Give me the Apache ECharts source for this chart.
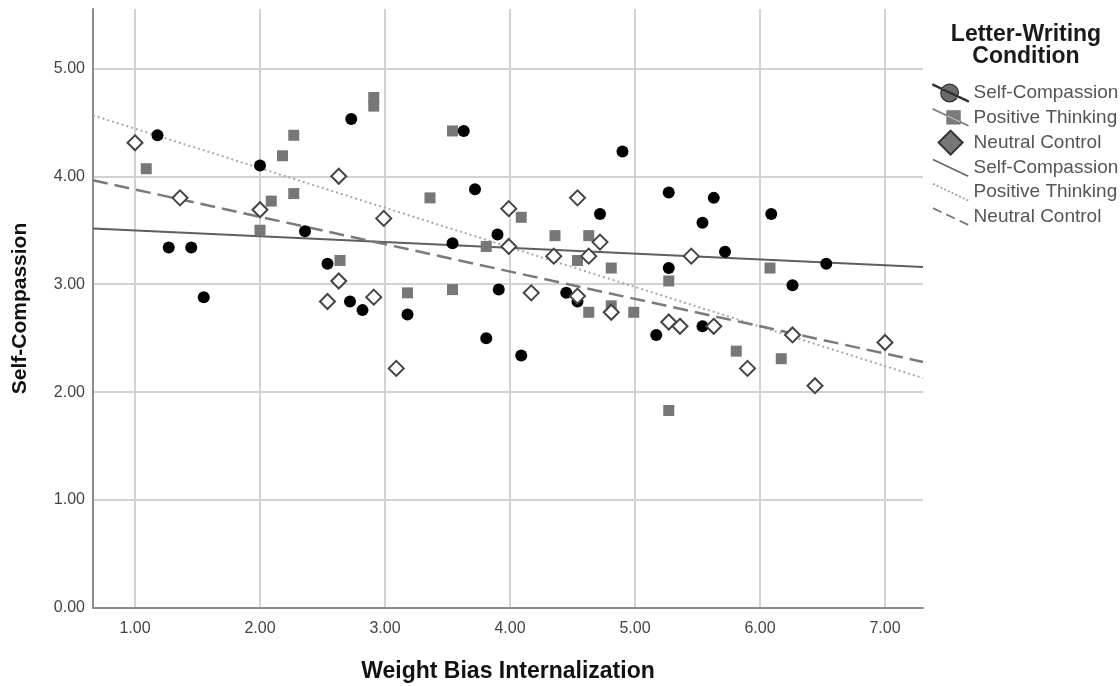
<!DOCTYPE html>
<html>
<head>
<meta charset="utf-8">
<script src="https://cdn.jsdelivr.net/npm/echarts@6/dist/echarts.min.js"></script>
<style>
  html, body { margin: 0; background: #fff; }
  #chart { width: 1120px; height: 686px; }
</style>
</head>
<body>
<div id="chart"></div>
<script>
// Self-Compassion letters (black circles)
const scX = [1.18, 1.27, 1.45, 1.55, 2.00, 2.36, 2.54, 2.72, 2.73, 2.82, 3.18, 3.54, 3.63, 3.72, 3.81, 3.90,
             3.91, 4.09, 4.45, 4.54, 4.72, 4.90, 5.17, 5.27, 5.27, 5.54, 5.54, 5.63, 5.72, 6.09, 6.26, 6.53];
const scY = [4.38, 3.34, 3.34, 2.88, 4.10, 3.49, 3.19, 2.84, 4.53, 2.76, 2.72, 3.38, 4.42, 3.88, 2.50, 3.46,
             2.95, 2.34, 2.92, 2.84, 3.65, 4.23, 2.53, 3.85, 3.15, 3.57, 2.61, 3.80, 3.30, 3.65, 2.99, 3.19];

// Positive Thinking letters (grey squares)
const ptX = [1.09, 2.00, 2.09, 2.18, 2.27, 2.27, 2.64, 2.91, 2.91, 3.18, 3.36, 3.54, 3.54, 3.81,
             4.09, 4.36, 4.54, 4.63, 4.63, 4.81, 4.81, 4.99, 5.27, 5.27, 5.81, 6.08, 6.17];
const ptY = [4.07, 3.50, 3.77, 4.19, 4.38, 3.84, 3.22, 4.73, 4.65, 2.92, 3.80, 4.42, 2.95, 3.35,
             3.62, 3.45, 3.22, 3.45, 2.74, 3.15, 2.80, 2.74, 3.03, 1.83, 2.38, 3.15, 2.31];

// Neutral Control letters (open diamonds)
const ncX = [1.00, 1.36, 2.00, 2.54, 2.63, 2.63, 2.91, 2.99, 3.09, 3.99, 3.99, 4.17, 4.35,
             4.54, 4.54, 4.63, 4.72, 4.81, 5.27, 5.36, 5.45, 5.63, 5.90, 6.26, 6.44, 7.00];
const ncY = [4.31, 3.80, 3.69, 2.84, 4.00, 3.03, 2.88, 3.61, 2.22, 3.70, 3.35, 2.92, 3.26,
             3.80, 2.89, 3.26, 3.39, 2.74, 2.65, 2.61, 3.26, 2.61, 2.22, 2.53, 2.06, 2.46];

// fit lines, values at the two ends of the x axis
const fitX = [0.664, 7.304];
const fitSC = [3.516, 3.16];
const fitPT = [4.565, 2.13];
const fitNC = [3.963, 2.28];

const xTicks = [1, 2, 3, 4, 5, 6, 7];
const yTicks = [0, 1, 2, 3, 4, 5];

const font = "'Liberation Sans', Arial, sans-serif";
const pairs = (xs, ys) => xs.map((x, i) => [x, ys[i]]);

// diagonal legend stroke, cut into dashes
function diagPath(dash, gap, th) {
  const x0 = 0, y0 = 3.5, x1 = 36, y1 = 20.5;
  const len = Math.hypot(x1 - x0, y1 - y0);
  const ux = (x1 - x0) / len, uy = (y1 - y0) / len;
  const nx = -uy * th / 2, ny = ux * th / 2;
  let d = '';
  let t = 0;
  while (t < len) {
    const t2 = Math.min(len, t + dash);
    const ax = x0 + ux * t, ay = y0 + uy * t, bx = x0 + ux * t2, by = y0 + uy * t2;
    d += 'M' + (ax + nx).toFixed(2) + ' ' + (ay + ny).toFixed(2) +
         'L' + (bx + nx).toFixed(2) + ' ' + (by + ny).toFixed(2) +
         'L' + (bx - nx).toFixed(2) + ' ' + (by - ny).toFixed(2) +
         'L' + (ax - nx).toFixed(2) + ' ' + (ay - ny).toFixed(2) + 'Z';
    t = t2 + gap;
  }
  return d;
}

const circleIcon = 'path://' + diagPath(40, 0, 1.2) + 'M26 12A9 9 0 1 1 8 12A9 9 0 1 1 26 12Z';
const squareIcon = 'path://' + diagPath(40, 0, 1.2) + 'M14 5L28 5L28 19L14 19Z';
const diamondIcon = 'path://M12 0L24 12L12 24L0 12Z';

const chart = echarts.init(document.getElementById('chart'));

chart.setOption({
  animation: false,
  title: {
    text: 'Letter-Writing\nCondition',
    left: 1021,
    top: 19,
    textAlign: 'center',
    textStyle: { fontFamily: font, fontSize: 23, fontWeight: 'bold', color: '#1a1a1a', lineHeight: 22 }
  },
  legend: {
    orient: 'vertical',
    left: 927,
    top: 76,
    itemWidth: 36,
    itemHeight: 24,
    itemGap: 0.3,
    selectedMode: false,
    textStyle: { fontFamily: font, fontSize: 19, color: '#555', lineHeight: 24 },
    data: [
      { name: 'Self-Compassion', icon: circleIcon, itemStyle: { color: '#6b6b6b', borderColor: '#333', borderWidth: 1.2 } },
      { name: 'Positive Thinking', icon: squareIcon, itemStyle: { color: '#7a7a7a', borderColor: '#666', borderWidth: 0.5 } },
      { name: 'Neutral Control', icon: diamondIcon, itemStyle: { color: '#777', borderColor: '#333', borderWidth: 2 } },
      { name: 'Self-Compassion ', icon: 'path://' + diagPath(40, 0, 1.6), itemStyle: { color: '#666', borderWidth: 0 } },
      { name: 'Positive Thinking ', icon: 'path://' + diagPath(2, 2, 1.6), itemStyle: { color: '#999', borderWidth: 0 } },
      { name: 'Neutral Control ', icon: 'path://' + diagPath(9, 5, 1.8), itemStyle: { color: '#777', borderWidth: 0 } }
    ]
  },
  grid: { left: 93, right: 197, top: 9, bottom: 78, outerBoundsMode: 'none' },
  xAxis: {
    type: 'value',
    min: fitX[0],
    max: fitX[1],
    name: 'Weight Bias Internalization',
    nameLocation: 'middle',
    nameGap: 52,
    nameTextStyle: { fontFamily: font, fontSize: 23, fontWeight: 'bold', color: '#111' },
    axisLine: { show: true, onZero: false, lineStyle: { color: '#8c8c8c', width: 2 } },
    axisTick: { show: false, customValues: xTicks },
    axisLabel: { customValues: xTicks, formatter: v => v.toFixed(2), fontFamily: font, fontSize: 16, color: '#444', margin: 13 },
    splitLine: { show: true, lineStyle: { color: '#d2d2d2', width: 2 } }
  },
  yAxis: {
    type: 'value',
    min: 0,
    max: 5.55,
    name: 'Self-Compassion',
    nameLocation: 'middle',
    nameGap: 62,
    nameTextStyle: { fontFamily: font, fontSize: 21, fontWeight: 'bold', color: '#111' },
    axisLine: { show: true, onZero: false, lineStyle: { color: '#8c8c8c', width: 2 } },
    axisTick: { show: false, customValues: yTicks },
    axisLabel: { customValues: yTicks, formatter: v => v.toFixed(2), fontFamily: font, fontSize: 16, color: '#444', margin: 8 },
    splitLine: { show: true, lineStyle: { color: '#d2d2d2', width: 2 } }
  },
  series: [
    {
      name: 'Self-Compassion ', type: 'line', data: pairs(fitX, fitSC), symbol: 'none', silent: true, z: 1,
      lineStyle: { color: '#5e5e5e', width: 2 }
    },
    {
      name: 'Positive Thinking ', type: 'line', data: pairs(fitX, fitPT), symbol: 'none', silent: true, z: 1,
      lineStyle: { color: '#a8a8a8', width: 2, type: [2, 3] }
    },
    {
      name: 'Neutral Control ', type: 'line', data: pairs(fitX, fitNC), symbol: 'none', silent: true, z: 1,
      lineStyle: { color: '#7a7a7a', width: 2.5, type: [15, 7] }
    },
    {
      name: 'Positive Thinking', type: 'scatter', data: pairs(ptX, ptY), symbol: 'rect', symbolSize: 11, z: 2,
      itemStyle: { color: '#777', opacity: 1 }
    },
    {
      name: 'Self-Compassion', type: 'scatter', data: pairs(scX, scY), symbol: 'circle', symbolSize: 12, z: 3,
      itemStyle: { color: '#000', opacity: 1 }
    },
    {
      name: 'Neutral Control', type: 'scatter', data: pairs(ncX, ncY), symbol: 'diamond', symbolSize: 15, z: 4,
      itemStyle: { color: '#fff', borderColor: '#444', borderWidth: 2, opacity: 1 }
    }
  ]
});
</script>
</body>
</html>
